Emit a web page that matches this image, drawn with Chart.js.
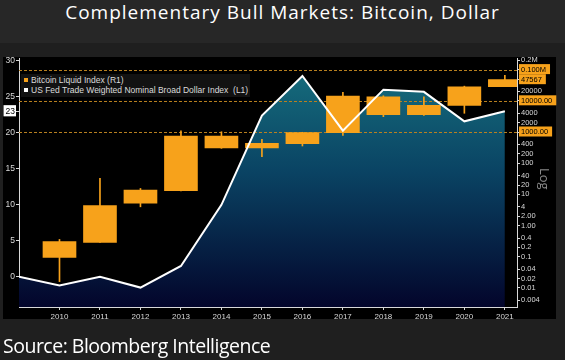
<!DOCTYPE html>
<html>
<head>
<meta charset="utf-8">
<script src="https://cdn.jsdelivr.net/npm/chart.js@4"></script>
<style>
  html, body { margin: 0; padding: 0; background: #1f1f1f; }
  #wrap { position: relative; width: 565px; height: 360px; overflow: hidden; background: #1f1f1f; }
  #titlebar { position: absolute; left: 0; top: 0; width: 565px; height: 43px; background: #272727; }
  #title { position: absolute; left: 0; top: 2px; width: 565px; text-align: center; color: #fff;
           font: 19px/20px "Open Sans", sans-serif; letter-spacing: 1px; }
  #panel { position: absolute; left: 3px; top: 57px; width: 553px; height: 262px; background: #000; }
  #chart { position: absolute; left: 0; top: 0; }
  #legend { position: absolute; left: 21px; top: 74px; width: 229px; height: 22px; background: #121212;
            color: #dcdcdc; font: 8.5px/10px "Liberation Sans", sans-serif; padding-top: 1px; }
  #legend div { padding-left: 10px; position: relative; white-space: pre; }
  #legend span { position: absolute; left: 3px; top: 3px; width: 4px; height: 4px; }
  #logtxt { position: absolute; left: 532px; top: 174px; color: #8a8a8a; font: 13px/14px "Open Sans", sans-serif;
            transform: rotate(90deg); transform-origin: 13px 7px; }
  #source { position: absolute; left: 3px; top: 336px; color: #fff; font: 19.5px/20px "Open Sans", sans-serif;
            letter-spacing: -0.5px; }
</style>
</head>
<body>
<div id="wrap">
  <div id="titlebar"></div>
  <div id="title">Complementary Bull Markets: Bitcoin, Dollar</div>
  <div id="panel"></div>
  <canvas id="chart" width="565" height="360"></canvas>
  <div id="legend">
    <div><span style="background:#f7a21b"></span>Bitcoin Liquid Index (R1)</div>
    <div><span style="background:#fff"></span>US Fed Trade Weighted Nominal Broad Dollar Index  (L1)</div>
  </div>
  <div id="logtxt">Log</div>
  <div id="source">Source: Bloomberg Intelligence</div>
</div>
<script>
// 비트코인 연간 캔들 (R1, 로그축)
const years = [2010, 2011, 2012, 2013, 2014, 2015, 2016, 2017, 2018, 2019, 2020, 2021];
const btcOpen  = [0.096, 0.29, 5.2, 13.1, 745, 307, 422, 950, 13500, 3580, 7170, 28300];
const btcClose = [0.31, 4.4, 13.8, 745, 307, 434, 950, 14200, 3580, 7170, 28300, 47567];
const btcHigh  = [0.36, 33, 15.5, 1100, 1020, 585, 980, 18700, 14500, 13500, 29500, 65000];
const btcLow   = [0.016, 0.29, 4.0, 13, 300, 162, 356, 780, 3100, 3400, 3980, 28300];

// 달러 인덱스 라인 (L1)
const dollarYears  = [2009, 2010, 2011, 2012, 2013, 2014, 2015, 2016, 2017, 2018, 2019, 2020, 2021];
const dollarValues = [0, -1.2, 0, -1.5, 1.5, 10, 22.4, 27.9, 20.3, 26, 25.7, 21.6, 23];

// 축 눈금
const leftTicks = [0, 5, 10, 15, 20, 23, 25, 30];
const leftTag = 23;
const rightTicks = [0.004, 0.01, 0.02, 0.04, 0.1, 0.2, 0.4, 1, 2, 4, 10, 20, 40, 100, 200, 400,
                    1000, 2000, 4000, 10000, 20000, 47567, 100000, 200000];
const rightTickLabels = ['0.004', '0.01', '0.02', '0.04', '0.1', '0.2', '0.4', '1.00', '2.00', '4', '10', '20', '40',
                         '100', '200', '400', '1000.00', '2000', '4000', '10000.00', '20000', '47567', '0.100M', '0.2M'];
const rightTags = [1000, 10000, 47567, 100000];
const dottedLevels = [1000, 10000, 100000];

const ORANGE = '#f7a21b';
const AXIS = '#d8d8d8';

const dottedLines = {
    id: 'dottedLines',
    beforeDatasetsDraw(chart) {
        const {ctx, chartArea} = chart;
        const sc = chart.scales.y1;
        ctx.save();
        ctx.strokeStyle = '#b8801f';
        ctx.lineWidth = 1;
        ctx.setLineDash([3, 2]);
        dottedLevels.forEach(v => {
            const y = Math.round(sc.getPixelForValue(v)) + 0.5;
            ctx.beginPath();
            ctx.moveTo(chartArea.left, y);
            ctx.lineTo(chartArea.right, y);
            ctx.stroke();
        });
        ctx.restore();
    }
};

new Chart(document.getElementById('chart'), {
    data: {
        datasets: [{
            type: 'line',
            data: dollarYears.map((x, i) => ({x: x, y: dollarValues[i]})),
            yAxisID: 'y',
            borderColor: '#ffffff',
            borderWidth: 2,
            pointRadius: 0,
            tension: 0,
            fill: 'start',
            backgroundColor: (c) => {
                const area = c.chart.chartArea;
                if (!area) return 'rgba(10,60,90,0.8)';
                const g = c.chart.ctx.createLinearGradient(0, area.top, 0, area.bottom);
                g.addColorStop(0, '#17717f');
                g.addColorStop(0.45, '#0a4464');
                g.addColorStop(1, '#03052b');
                return g;
            },
            order: 0
        }, {
            type: 'bar',
            data: years.map((x, i) => ({x: x, y: [btcOpen[i], btcClose[i]]})),
            yAxisID: 'y1',
            backgroundColor: ORANGE,
            barThickness: 33,
            grouped: false,
            order: 1
        }, {
            type: 'bar',
            data: years.map((x, i) => ({x: x, y: [btcLow[i], btcHigh[i]]})),
            yAxisID: 'y1',
            backgroundColor: ORANGE,
            barThickness: 1,
            grouped: false,
            order: 2
        }]
    },
    options: {
        responsive: false,
        animation: false,
        layout: {padding: {top: 58, left: 0, right: 0, bottom: 0}},
        plugins: {
            legend: {display: false},
            tooltip: {enabled: false},
            filler: {drawTime: 'beforeDatasetsDraw'}
        },
        scales: {
            x: {
                type: 'linear',
                offset: false,
                min: 2009,
                max: 2021.3,
                afterBuildTicks: (s) => { s.ticks = years.map(v => ({value: v})); },
                afterFit: (s) => { s.height = 53; },
                border: {color: AXIS, width: 1},
                grid: {offset: false, drawOnChartArea: false, tickLength: 3, tickColor: AXIS},
                ticks: {
                    autoSkip: false, maxRotation: 0, padding: 2, color: AXIS,
                    font: {family: 'Liberation Sans', size: 8},
                    callback: (v) => String(v)
                }
            },
            y: {
                type: 'linear',
                position: 'left',
                min: -4.2,
                max: 30.4,
                afterBuildTicks: (s) => { s.ticks = leftTicks.map(v => ({value: v})); },
                afterFit: (s) => { s.width = 19; },
                border: {color: AXIS, width: 1},
                grid: {drawOnChartArea: false, tickLength: 3, tickColor: AXIS},
                ticks: {
                    autoSkip: false, padding: 1,
                    font: {family: 'Liberation Sans', size: 8.5},
                    color: (c) => c.tick && c.tick.value === leftTag ? '#000' : AXIS,
                    showLabelBackdrop: (c) => !!(c.tick && c.tick.value === leftTag),
                    backdropColor: '#ffffff',
                    backdropPadding: {top: 1, bottom: 0, left: 2, right: 1},
                    callback: (v) => String(v)
                }
            },
            y1: {
                type: 'logarithmic',
                position: 'right',
                min: 0.00246,
                max: 235500,
                afterBuildTicks: (s) => { s.ticks = rightTicks.map(v => ({value: v})); },
                afterFit: (s) => { s.width = 48; },
                border: {color: AXIS, width: 1},
                grid: {drawOnChartArea: false, tickLength: 3, tickColor: AXIS},
                ticks: {
                    autoSkip: false, padding: 1,
                    font: {family: 'Liberation Sans', size: 7.5},
                    color: (c) => c.tick && rightTags.includes(c.tick.value) ? '#000' : AXIS,
                    showLabelBackdrop: (c) => !!(c.tick && rightTags.includes(c.tick.value)),
                    backdropColor: ORANGE,
                    backdropPadding: {top: 1, bottom: 0, left: 2, right: 4},
                    callback: (v) => rightTickLabels[rightTicks.indexOf(v)] ?? ''
                }
            }
        }
    },
    plugins: [dottedLines]
});
</script>
</body>
</html>
